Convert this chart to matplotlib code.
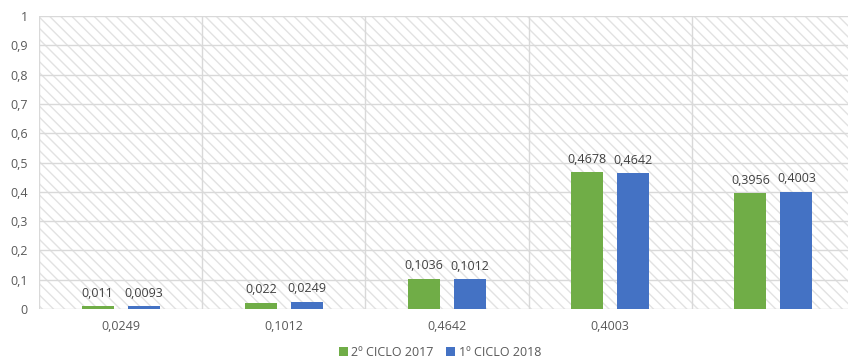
import matplotlib
matplotlib.use("Agg")
import matplotlib.pyplot as plt
from matplotlib.patches import Rectangle
import numpy as np

categories = ["0,0249", "0,1012", "0,4642", "0,4003", ""]
series_names = ["2º CICLO 2017", "1º CICLO 2018"]
ciclo2_2017 = [0.011, 0.022, 0.1036, 0.4678, 0.3956]
ciclo1_2018 = [0.0093, 0.0249, 0.1012, 0.4642, 0.4003]
label_2017 = ["0,011", "0,022", "0,1036", "0,4678", "0,3956"]
label_2018 = ["0,0093", "0,0249", "0,1012", "0,4642", "0,4003"]
y_ticks = [0, 0.1, 0.2, 0.3, 0.4, 0.5, 0.6, 0.7, 0.8, 0.9, 1.0]
y_labels = ["0", "0,1", "0,2", "0,3", "0,4", "0,5", "0,6", "0,7", "0,8", "0,9", "1"]

green = "#70AD47"
blue = "#4472C4"
grid_c = "#D9D9D9"
text_c = "#595959"

plt.rcParams['font.family'] = ['Open Sans', 'DejaVu Sans']
plt.rcParams['hatch.linewidth'] = 1.0

fig = plt.figure(figsize=(8.48, 3.63), dpi=100)
W, H = 848, 363
left_px, right_px, top_px, bot_px = 39, 855, 16, 309
ax = fig.add_axes([left_px / W, 1 - bot_px / H, (right_px - left_px) / W, (bot_px - top_px) / H])

n = len(categories)
x = np.arange(n)
ax.set_xlim(-0.5, n - 0.5)
ax.set_ylim(0, 1)

# hatched background
ax.add_patch(Rectangle((0, 0), 1, 1, transform=ax.transAxes, facecolor="white",
                       edgecolor="#E2E2E2", hatch="\\\\\\", linewidth=0, zorder=0))

# grid
for yt in y_ticks:
    ax.axhline(yt, color=grid_c, lw=1.0, zorder=1)
for b in np.arange(-0.5, n, 1.0):
    ax.axvline(b, color=grid_c, lw=1.0, zorder=1)

w = 0.196
off = 0.141
b1 = ax.bar(x - off, ciclo2_2017, w, color=green, zorder=3, label=series_names[0])
b2 = ax.bar(x + off, ciclo1_2018, w, color=blue, zorder=3, label=series_names[1])

for rect, lab in zip(b1, label_2017):
    ax.annotate(lab, (rect.get_x() + rect.get_width() / 2, rect.get_height()),
                xytext=(0, 4.5), textcoords="offset points", ha="center", va="bottom",
                fontsize=9, color="#404040", zorder=4)
for rect, lab in zip(b2, label_2018):
    ax.annotate(lab, (rect.get_x() + rect.get_width() / 2, rect.get_height()),
                xytext=(0, 4.5), textcoords="offset points", ha="center", va="bottom",
                fontsize=9, color="#404040", zorder=4)

for s in ax.spines.values():
    s.set_visible(False)

ax.set_yticks(y_ticks)
ax.set_yticklabels(y_labels, fontsize=9, color=text_c)
ax.set_xticks(x)
ax.set_xticklabels(categories, fontsize=9, color=text_c)
ax.tick_params(axis="both", length=0)
ax.tick_params(axis="y", pad=8)
ax.tick_params(axis="x", pad=8)

leg = fig.legend(handles=[b1, b2], labels=series_names, loc="center",
                 bbox_to_anchor=(440 / W, 1 - 352 / H), ncol=2, frameon=False,
                 fontsize=9, handlelength=0.7, handleheight=0.7, handletextpad=0.3,
                 columnspacing=1.0, labelcolor=text_c)

fig.savefig("out.png", dpi=100)
